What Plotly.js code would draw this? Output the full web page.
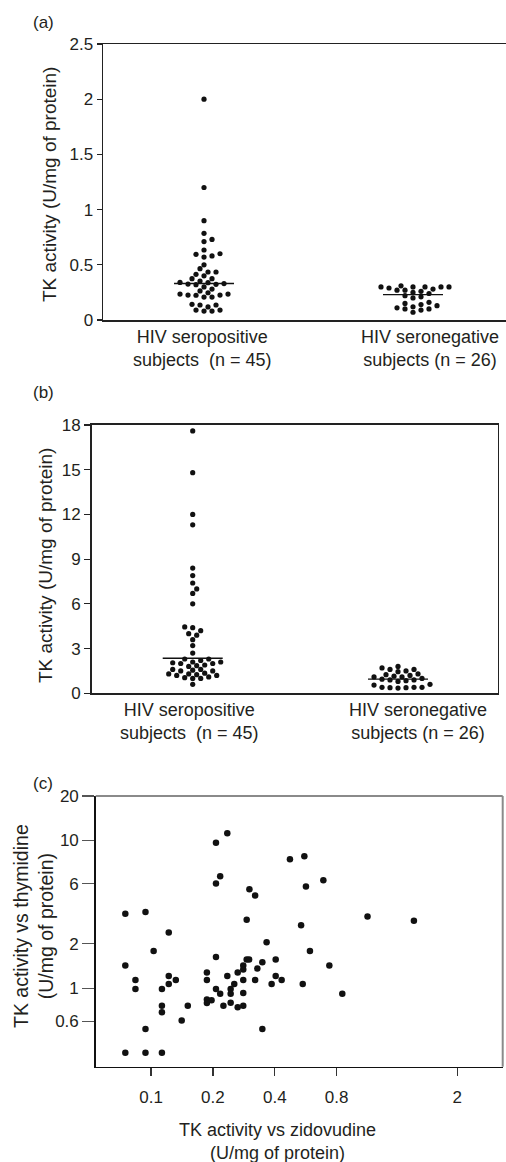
<!DOCTYPE html>
<html><head><meta charset="utf-8">
<script src="https://cdn.plot.ly/plotly-3.0.1.min.js"></script>
<style>html,body{margin:0;padding:0;background:#fff}#chart{width:506px;height:1162px}</style>
</head><body><div id="chart"></div>
<script>
// ---------- data ----------
const groupLabels = ['HIV seropositive<br>subjects  (n = 45)', 'HIV seronegative<br>subjects (n = 26)'];

// Panel (a): TK activity (U/mg of protein)
const aPositive = [2.0, 1.2, 0.9, 0.785, 0.73, 0.71, 0.634, 0.60, 0.595, 0.58, 0.57, 0.50, 0.465, 0.435, 0.435,
  0.414, 0.40, 0.374, 0.374, 0.353, 0.34, 0.338, 0.33, 0.325, 0.323, 0.32, 0.30, 0.28, 0.263, 0.247,
  0.235, 0.235, 0.226, 0.226, 0.224, 0.208, 0.208, 0.142, 0.136, 0.136, 0.118, 0.09, 0.09, 0.081, 0.081];
const aNegative = [0.31, 0.30, 0.30, 0.30, 0.30, 0.30, 0.29, 0.28, 0.27, 0.27, 0.26, 0.25, 0.24, 0.22, 0.21,
  0.20, 0.16, 0.15, 0.14, 0.13, 0.12, 0.11, 0.10, 0.10, 0.09, 0.07];
const aMedians = [0.33, 0.23];
const aTickVals = [0, 0.5, 1, 1.5, 2, 2.5];
const aTickText = ['0', '0.5', '1', '1.5', '2', '2.5'];

// Panel (b)
const bPositive = [17.6, 14.8, 12.0, 11.3, 8.4, 7.9, 7.4, 7.0, 6.7, 6.0, 4.45, 4.4, 4.2, 4.0, 3.9, 3.6, 3.2, 2.7,
  2.3, 2.3, 2.2, 2.1, 2.1, 2.05, 2.0, 2.0, 1.9, 1.85, 1.8, 1.6, 1.6, 1.55, 1.5, 1.5, 1.35, 1.3, 1.3, 1.25,
  1.2, 1.2, 1.1, 1.05, 1.0, 1.0, 0.6];
const bNegative = [1.8, 1.7, 1.6, 1.6, 1.5, 1.45, 1.3, 1.25, 1.2, 1.15, 1.1, 1.1, 1.0, 0.95, 0.9, 0.9, 0.85, 0.8,
  0.6, 0.55, 0.4, 0.4, 0.4, 0.38, 0.38, 0.35];
const bMedians = [2.35, 0.95];
const bTickVals = [0, 3, 6, 9, 12, 15, 18];
const bTickText = ['0', '3', '6', '9', '12', '15', '18'];

// Panel (c)
const cZidovudine = [0.075, 0.094, 0.075, 0.084, 0.084, 0.122, 0.103, 0.122, 0.132, 0.122, 0.113, 0.113, 0.113,
  0.151, 0.141, 0.094, 0.075, 0.094, 0.113, 0.207, 0.235, 0.217, 0.207, 0.301, 0.321, 0.292, 0.474, 0.557,
  0.567, 0.689, 0.537, 1.13, 1.90, 0.365, 0.593, 0.207, 0.737, 0.292, 0.300, 0.348, 0.404, 0.329, 0.281,
  0.281, 0.264, 0.187, 0.235, 0.187, 0.281, 0.321, 0.404, 0.432, 0.386, 0.547, 0.254, 0.244, 0.244, 0.207,
  0.217, 0.281, 0.852, 0.187, 0.187, 0.197, 0.225, 0.244, 0.264, 0.281, 0.348];
const cThymidine = [3.19, 3.28, 1.43, 1.14, 0.99, 2.39, 1.79, 1.21, 1.14, 1.07, 0.99, 0.764, 0.69,
  0.764, 0.606, 0.53, 0.367, 0.367, 0.367, 9.64, 11.2, 5.72, 5.11, 4.68, 4.24, 2.91, 7.48, 7.84,
  4.88, 5.38, 2.67, 3.06, 2.87, 2.05, 1.79, 1.63, 1.43, 1.57, 1.57, 1.50, 1.57, 1.36, 1.43,
  1.34, 1.28, 1.28, 1.21, 1.14, 1.14, 1.14, 1.21, 1.14, 1.07, 1.07, 1.07, 0.99, 0.921, 0.99,
  0.921, 0.93, 0.921, 0.839, 0.797, 0.83, 0.764, 0.80, 0.745, 0.764, 0.53];
const cXTickVals = [0.1, 0.2, 0.4, 0.8, 3.09];
const cXTickText = ['0.1', '0.2', '0.4', '0.8', '2'];
const cYTickVals = [0.6, 1, 2, 5.1, 10, 20];
const cYTickText = ['0.6', '1', '2', '6', '10', '20'];

// ---------- layout geometry ----------
const W = 506, H = 1162;
const FONT = 'Liberation Sans, Arial, Helvetica, sans-serif';
const INK = '#231f20';
const px = v => v / W, py = v => 1 - v / H;

const dom = {
  a: { x: [px(103), 1], y: [py(320), py(44)], xr: [-0.4833, 1.445], yr: [0, 2.5] },
  b: { x: [px(91.7), px(497.7)], y: [py(693.3), py(425)], xr: [-0.492, 1.4856], yr: [0, 18] },
  c: { x: [px(95.7), px(502.7)], y: [py(1066.7), py(796)], xr: [-1.269, 0.7106], yr: [-0.53, 1.301] }
};

function pxPer(d) {
  return {
    x: W * (d.x[1] - d.x[0]) / (d.xr[1] - d.xr[0]),
    y: H * (d.y[1] - d.y[0]) / (d.yr[1] - d.yr[0])
  };
}

// simple beeswarm: offsets computed in pixel space, returned in axis units
function swarm(values, scale, diam, step) {
  const order = values.map((v, i) => i).sort((i, j) => values[i] - values[j]);
  const placed = [];
  const off = new Array(values.length).fill(0);
  for (const i of order) {
    const yy = values[i] * scale.y;
    for (let k = 0; k < 80; k++) {
      const m = k === 0 ? 0 : (k % 2 === 1 ? Math.ceil(k / 2) : -k / 2);
      const xx = m * step;
      let ok = true;
      for (const p of placed) {
        const dx = p[0] - xx, dy = p[1] - yy;
        if (dx * dx + dy * dy < diam * diam) { ok = false; break; }
      }
      if (ok) { placed.push([xx, yy]); off[i] = xx / scale.x; break; }
    }
  }
  return off;
}

const traces = [];
function addSwarmPanel(key, groups, medians, xa, ya) {
  const sc = pxPer(dom[key]);
  groups.forEach((vals, gi) => {
    const off = swarm(vals, sc, 5.2, 4);
    traces.push({
      type: 'scatter', mode: 'markers', xaxis: xa, yaxis: ya,
      x: vals.map((v, i) => gi + off[i]), y: vals,
      marker: { color: '#111', size: 5.2 }, hoverinfo: 'y', showlegend: false, cliponaxis: false
    });
    const half = 30 / sc.x;
    traces.push({
      type: 'scatter', mode: 'lines', xaxis: xa, yaxis: ya,
      x: [gi - half, gi + half], y: [medians[gi], medians[gi]],
      line: { color: '#111', width: 1.4 }, hoverinfo: 'skip', showlegend: false
    });
  });
}
addSwarmPanel('a', [aPositive, aNegative], aMedians, 'x', 'y');
addSwarmPanel('b', [bPositive, bNegative], bMedians, 'x2', 'y2');

traces.push({
  type: 'scatter', mode: 'markers', xaxis: 'x3', yaxis: 'y3',
  x: cZidovudine, y: cThymidine,
  marker: { color: '#111', size: 6.5 }, showlegend: false, cliponaxis: false
});

const tickFont = { family: FONT, size: 17, color: INK };
const baseAx = { showgrid: false, zeroline: false, fixedrange: true };

const layout = {
  width: W, height: H,
  margin: { l: 0, r: 0, t: 0, b: 0 },
  paper_bgcolor: '#fff', plot_bgcolor: 'rgba(0,0,0,0)',
  font: { family: FONT, color: INK },
  showlegend: false,
  xaxis: Object.assign({}, baseAx, {
    domain: dom.a.x, range: dom.a.xr, showline: true, mirror: true, linecolor: '#222', linewidth: 1.5,
    showticklabels: false, ticks: '', anchor: 'y'
  }),
  yaxis: Object.assign({}, baseAx, {
    domain: dom.a.y, range: dom.a.yr, showline: true, linecolor: '#222', linewidth: 1.5,
    ticks: 'outside', ticklen: 5, tickwidth: 1.2, tickcolor: '#222',
    tickvals: aTickVals, ticktext: aTickText, tickfont: tickFont, anchor: 'x'
  }),
  xaxis2: Object.assign({}, baseAx, {
    domain: dom.b.x, range: dom.b.xr, showline: true, mirror: true, linecolor: '#222', linewidth: 1.6,
    showticklabels: false, ticks: '', anchor: 'y2'
  }),
  yaxis2: Object.assign({}, baseAx, {
    domain: dom.b.y, range: dom.b.yr, showline: true, mirror: true, linecolor: '#222', linewidth: 1.6,
    ticks: 'outside', ticklen: 6, tickwidth: 1.2, tickcolor: '#222',
    tickvals: bTickVals, ticktext: bTickText, tickfont: tickFont, anchor: 'x2'
  }),
  xaxis3: Object.assign({}, baseAx, {
    type: 'log', domain: dom.c.x, range: dom.c.xr, showline: true, linecolor: '#111', linewidth: 1.5,
    ticks: 'outside', ticklen: 8, tickwidth: 1.2, tickcolor: '#333',
    tickvals: cXTickVals, ticktext: cXTickText, tickfont: tickFont, ticklabelstandoff: 6, anchor: 'y3'
  }),
  yaxis3: Object.assign({}, baseAx, {
    type: 'log', domain: dom.c.y, range: dom.c.yr, showline: true, linecolor: '#111', linewidth: 1.5,
    ticks: 'outside', ticklen: 12, tickwidth: 1.2, tickcolor: '#555',
    tickvals: cYTickVals, ticktext: cYTickText, tickfont: tickFont, anchor: 'x3'
  }),
  shapes: [
    { type: 'line', xref: 'x3 domain', yref: 'y3 domain', x0: 0, x1: 1, y0: 1, y1: 1, line: { color: '#8a8a8a', width: 2 } },
    { type: 'line', xref: 'x3 domain', yref: 'y3 domain', x0: 1, x1: 1, y0: 0, y1: 1, line: { color: '#8a8a8a', width: 2 } }
  ],
  annotations: []
};

function ann(text, x, y, opts) {
  layout.annotations.push(Object.assign({
    text: text, xref: 'paper', yref: 'paper', x: px(x), y: py(y), showarrow: false,
    font: { family: FONT, size: 17, color: INK }, xanchor: 'center', yanchor: 'middle'
  }, opts || {}));
}
// panel letters
ann('(a)', 31, 23, { xanchor: 'left' });
ann('(b)', 31, 392, { xanchor: 'left' });
ann('(c)', 31, 783, { xanchor: 'left' });
// y titles
const tkTitle = 'TK activity (U/mg of protein)';
ann(tkTitle, 50, 185, { textangle: -90, font: { family: FONT, size: 19, color: INK } });
ann(tkTitle, 45, 566, { textangle: -90, font: { family: FONT, size: 19, color: INK } });
ann('TK activity vs thymidine<br>(U/mg of protein)', 33, 926, { textangle: -90, font: { family: FONT, size: 19.5, color: INK } });
// group labels
ann(groupLabels[0], 202, 348, { font: { family: FONT, size: 18, color: INK } });
ann(groupLabels[1], 430, 348, { font: { family: FONT, size: 18, color: INK } });
ann(groupLabels[0], 189.5, 721, { font: { family: FONT, size: 18, color: INK } });
ann(groupLabels[1], 417.5, 721, { font: { family: FONT, size: 18, color: INK } });
// x title (c)
ann('TK activity vs zidovudine<br>(U/mg of protein)', 277, 1141, { font: { family: FONT, size: 18, color: INK } });

Plotly.newPlot('chart', traces, layout, { displayModeBar: false, staticPlot: true });
</script>
</body></html>
